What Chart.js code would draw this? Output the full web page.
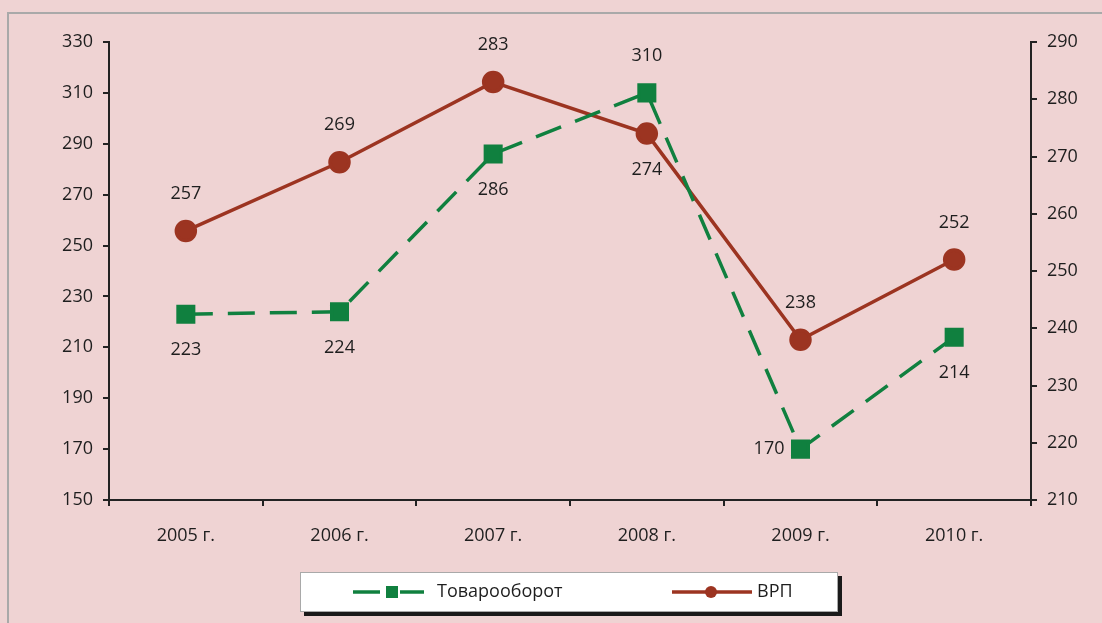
<!DOCTYPE html>
<html>
<head>
<meta charset="utf-8">
<script src="https://cdn.jsdelivr.net/npm/chart.js@4.4.0/dist/chart.umd.min.js"></script>
<style>
  html, body { margin: 0; padding: 0; background: #efd3d3; }
  #wrap { position: relative; width: 1102px; height: 623px; overflow: hidden; }
  #frame { position: absolute; left: 7px; top: 12px; width: 1200px; height: 700px;
           border-left: 2px solid #a9a9a9; border-top: 2px solid #a9a9a9; }
  canvas { position: absolute; left: 0; top: 0; }
</style>
</head>
<body>
<div id="wrap">
  <div id="frame"></div>
  <canvas id="lineChart" width="1102" height="623"></canvas>
</div>
<script>
const years = ['2005 г.', '2006 г.', '2007 г.', '2008 г.', '2009 г.', '2010 г.'];
const turnover = [223, 224, 286, 310, 170, 214];   // Товарооборот, left axis
const grp = [257, 269, 283, 274, 238, 252];        // ВРП, right axis
const leftTicks = [150, 330, 20];
const rightTicks = [210, 290, 10];

// where each value label sits relative to its point
const turnoverLabelPos = ['below', 'below', 'below', 'above', 'left', 'below'];
const grpLabelPos = ['above', 'above', 'above', 'below', 'above', 'above'];

const GREEN = '#10803f';
const RED = '#9c3421';
const FONT = '"Open Sans", Lato, sans-serif';
const FSIZE = 18;
const INK = '#1e1e1e';

const valueLabels = {
  id: 'valueLabels',
  afterDatasetsDraw(chart) {
    const ctx = chart.ctx;
    ctx.save();
    ctx.font = FSIZE + 'px ' + FONT;
    ctx.fillStyle = INK;
    ctx.textBaseline = 'middle';
    const sets = [turnoverLabelPos, grpLabelPos];
    chart.data.datasets.forEach((ds, di) => {
      chart.getDatasetMeta(di).data.forEach((pt, i) => {
        const pos = sets[di][i];
        let x = pt.x, y = pt.y;
        ctx.textAlign = 'center';
        if (pos === 'below') y += 36;
        else if (pos === 'above') y -= 37;
        else if (pos === 'left') { x -= 16; ctx.textAlign = 'right'; }
        ctx.fillText(ds.data[i], x, y);
      });
    });
    ctx.restore();
  }
};

const boxLegend = {
  id: 'boxLegend',
  afterDraw(chart) {
    const ctx = chart.ctx;
    ctx.save();
    // shadow + box
    ctx.fillStyle = '#1a1a1a';
    ctx.fillRect(304, 576, 538, 40);
    ctx.fillStyle = '#ffffff';
    ctx.fillRect(300, 572, 538, 40);
    ctx.strokeStyle = '#a9a9a9';
    ctx.lineWidth = 1;
    ctx.strokeRect(300.5, 572.5, 537, 39);
    const cy = 592;
    // Товарооборот
    ctx.strokeStyle = GREEN;
    ctx.lineWidth = 3.5;
    ctx.beginPath(); ctx.moveTo(353, cy); ctx.lineTo(380, cy); ctx.stroke();
    ctx.beginPath(); ctx.moveTo(400, cy); ctx.lineTo(424, cy); ctx.stroke();
    ctx.fillStyle = GREEN;
    ctx.fillRect(386, cy - 6, 12, 12);
    // ВРП
    ctx.strokeStyle = RED;
    ctx.beginPath(); ctx.moveTo(672, cy); ctx.lineTo(752, cy); ctx.stroke();
    ctx.fillStyle = RED;
    ctx.beginPath(); ctx.arc(711, cy, 6, 0, Math.PI * 2); ctx.fill();
    ctx.fillStyle = INK;
    ctx.font = FSIZE + 'px ' + FONT;
    ctx.textBaseline = 'middle';
    ctx.textAlign = 'left';
    ctx.fillText('Товарооборот', 437, cy);
    ctx.fillText('ВРП', 757, cy);
    ctx.restore();
  }
};

new Chart(document.getElementById('lineChart').getContext('2d'), {
  type: 'line',
  data: {
    labels: years,
    datasets: [
      {
        label: 'Товарооборот',
        data: turnover,
        yAxisID: 'y',
        borderColor: GREEN,
        backgroundColor: GREEN,
        borderWidth: 3.5,
        borderDash: [27, 15],
        pointStyle: 'rect',
        pointRadius: 11,
        pointHoverRadius: 11,
        fill: false,
        tension: 0
      },
      {
        label: 'ВРП',
        data: grp,
        yAxisID: 'y1',
        borderColor: RED,
        backgroundColor: RED,
        borderWidth: 3.5,
        pointStyle: 'circle',
        pointRadius: 9.5,
        pointHoverRadius: 9.5,
        fill: false,
        tension: 0
      }
    ]
  },
  options: {
    responsive: false,
    animation: false,
    layout: { padding: { top: 42, left: 0, right: 0, bottom: 0 } },
    plugins: { legend: { display: false }, tooltip: { enabled: false } },
    scales: {
      x: {
        offset: true,
        grid: { offset: true, drawOnChartArea: false, drawTicks: true, tickLength: 6, color: '#222', lineWidth: 2 },
        border: { display: true, color: '#222', width: 2 },
        ticks: { color: INK, font: { family: FONT, size: FSIZE }, padding: 19, maxRotation: 0 },
        afterFit(s) { s.height = 123; }
      },
      y: {
        position: 'left',
        min: leftTicks[0], max: leftTicks[1],
        grid: { drawOnChartArea: false, drawTicks: true, tickLength: 6, color: '#222', lineWidth: 2 },
        border: { display: true, color: '#222', width: 2 },
        ticks: { stepSize: leftTicks[2], color: INK, font: { family: FONT, size: FSIZE }, padding: 10 },
        afterFit(s) { s.width = 109; }
      },
      y1: {
        position: 'right',
        min: rightTicks[0], max: rightTicks[1],
        grid: { drawOnChartArea: false, drawTicks: true, tickLength: 6, color: '#222', lineWidth: 2 },
        border: { display: true, color: '#222', width: 2 },
        ticks: { stepSize: rightTicks[2], color: INK, font: { family: FONT, size: FSIZE }, padding: 10 },
        afterFit(s) { s.width = 71; }
      }
    }
  },
  plugins: [valueLabels, boxLegend]
});
</script>
</body>
</html>
